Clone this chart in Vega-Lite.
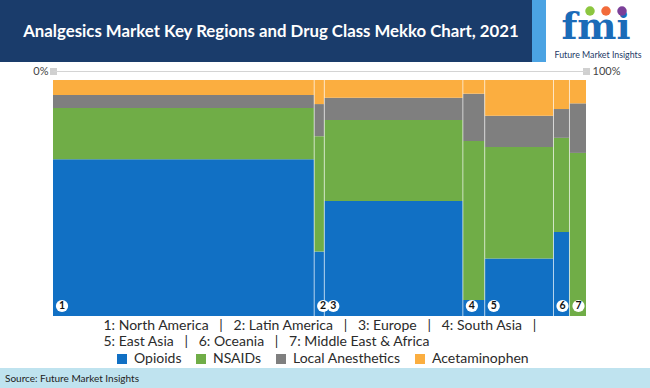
{
  "$schema": "https://vega.github.io/schema/vega-lite/v6.json",
  "padding": 0,
  "spacing": 0,
  "background": "#ffffff",
  "config": {"view": {"stroke": null}, "font": "Lato", "concat": {"spacing": 0}},
  "resolve": {"scale": {"color": "independent"}, "legend": {"color": "independent"}},
  "datasets": {
    "regions": [
      {"num": 1, "region": "North America", "share": 49.0},
      {"num": 2, "region": "Latin America", "share": 1.9},
      {"num": 3, "region": "Europe", "share": 26.0},
      {"num": 4, "region": "South Asia", "share": 4.1},
      {"num": 5, "region": "East Asia", "share": 12.9},
      {"num": 6, "region": "Oceania", "share": 3.0},
      {"num": 7, "region": "Middle East & Africa", "share": 3.1}
    ],
    "mix": [
      {"region": "North America", "cls": "Opioids", "pct": 66.4},
      {"region": "North America", "cls": "NSAIDs", "pct": 21.7},
      {"region": "North America", "cls": "Local Anesthetics", "pct": 5.5},
      {"region": "North America", "cls": "Acetaminophen", "pct": 6.4},
      {"region": "Latin America", "cls": "Opioids", "pct": 27.3},
      {"region": "Latin America", "cls": "NSAIDs", "pct": 48.9},
      {"region": "Latin America", "cls": "Local Anesthetics", "pct": 13.6},
      {"region": "Latin America", "cls": "Acetaminophen", "pct": 10.2},
      {"region": "Europe", "cls": "Opioids", "pct": 48.7},
      {"region": "Europe", "cls": "NSAIDs", "pct": 34.3},
      {"region": "Europe", "cls": "Local Anesthetics", "pct": 9.5},
      {"region": "Europe", "cls": "Acetaminophen", "pct": 7.5},
      {"region": "South Asia", "cls": "Opioids", "pct": 6.8},
      {"region": "South Asia", "cls": "NSAIDs", "pct": 67.4},
      {"region": "South Asia", "cls": "Local Anesthetics", "pct": 20.0},
      {"region": "South Asia", "cls": "Acetaminophen", "pct": 5.8},
      {"region": "East Asia", "cls": "Opioids", "pct": 24.4},
      {"region": "East Asia", "cls": "NSAIDs", "pct": 47.2},
      {"region": "East Asia", "cls": "Local Anesthetics", "pct": 13.3},
      {"region": "East Asia", "cls": "Acetaminophen", "pct": 15.1},
      {"region": "Oceania", "cls": "Opioids", "pct": 35.6},
      {"region": "Oceania", "cls": "NSAIDs", "pct": 39.9},
      {"region": "Oceania", "cls": "Local Anesthetics", "pct": 12.2},
      {"region": "Oceania", "cls": "Acetaminophen", "pct": 12.3},
      {"region": "Middle East & Africa", "cls": "Opioids", "pct": 0},
      {"region": "Middle East & Africa", "cls": "NSAIDs", "pct": 69.1},
      {"region": "Middle East & Africa", "cls": "Local Anesthetics", "pct": 21.0},
      {"region": "Middle East & Africa", "cls": "Acetaminophen", "pct": 9.9}
    ]
  },
  "vconcat": [
    {
      "hconcat": [
        {
          "width": 532, "height": 62,
          "view": {"fill": "#1a3c6b", "stroke": null},
          "data": {"values": [{"t": "Analgesics Market Key Regions and Drug Class Mekko Chart, 2021"}]},
          "mark": {"type": "text", "color": "#ffffff", "font": "Lato", "fontWeight": "bold", "fontSize": 16.8, "dx": 5, "dy": 1, "baseline": "middle"},
          "encoding": {"text": {"field": "t"}}
        },
        {
          "width": 14, "height": 62,
          "view": {"fill": "#4ba3e3", "stroke": null},
          "data": {"values": [{"t": ""}]},
          "mark": "text",
          "encoding": {"text": {"field": "t"}}
        },
        {
          "width": 104, "height": 62,
          "view": {"fill": "#ffffff", "stroke": null},
          "data": {"values": [{"logo": "fmi", "name": "Future Market Insights"}]},
          "layer": [
            {"mark": {"type": "text", "font": "DejaVu Serif", "fontWeight": "bold", "fontSize": 37, "color": "#1b6bb8", "baseline": "alphabetic", "dy": 8, "dx": -2}, "encoding": {"text": {"field": "logo"}}},
            {"mark": {"type": "text", "font": "Lato", "fontSize": 8.8, "color": "#1d3a66", "baseline": "middle", "dy": 23.5}, "encoding": {"text": {"field": "name"}}},
            {"mark": {"type": "point", "filled": true, "size": 90, "color": "#8cc63f", "opacity": 1}, "encoding": {"xOffset": {"value": -8}, "yOffset": {"value": -20}}},
            {"mark": {"type": "point", "filled": true, "size": 90, "color": "#f26b3a", "opacity": 1}, "encoding": {"xOffset": {"value": 8}, "yOffset": {"value": -20}}},
            {"mark": {"type": "point", "filled": true, "size": 90, "color": "#7b3f98", "opacity": 1}, "encoding": {"xOffset": {"value": 24}, "yOffset": {"value": -20}}}
          ]
        }
      ],
      "spacing": 0
    },
    {
      "hconcat": [
        {
          "width": 53, "height": 236,
          "data": {"values": [{"t": ""}]},
          "mark": "text",
          "encoding": {"text": {"field": "t"}}
        },
        {
          "width": 533, "height": 236,
          "data": {"name": "mix"},
          "transform": [
            {"lookup": "region", "from": {"data": {"name": "regions"}, "key": "region", "fields": ["num", "share"]}},
            {"stack": "share", "groupby": ["cls"], "sort": [{"field": "num", "order": "ascending"}], "as": ["x0", "x1"], "offset": "normalize"},
            {"stack": "pct", "groupby": ["region"], "sort": [{"field": "cls", "order": "descending"}], "as": ["y0", "y1"], "offset": "normalize"}
          ],
          "layer": [
            {
              "mark": {"type": "rect"},
              "encoding": {
                "x": {"field": "x0", "type": "quantitative", "scale": {"domain": [0, 1], "nice": false, "zero": false},
                  "axis": {"orient": "top", "values": [0, 1], "format": ".0%", "grid": false, "title": null, "offset": 9,
                    "domainColor": "#d4d4d4", "domainWidth": 1, "ticks": true, "tickSize": 0, "tickWidth": 7, "tickCap": "square", "tickColor": "#d0d0d0",
                    "labelFont": "Lato", "labelFontSize": 11, "labelColor": "#444444", "labelBaseline": "middle", "labelPadding": 0,
                    "labelAlign": {"condition": {"test": "datum.value < 0.5", "value": "right"}, "value": "left"},
                    "labelOffset": {"condition": {"test": "datum.value < 0.5", "value": -5}, "value": 6},
                    "labelFlush": false, "labelOverlap": false, "labelBound": false, "minExtent": 9, "maxExtent": 9}},
                "x2": {"field": "x1"},
                "y": {"field": "y0", "type": "quantitative", "scale": {"domain": [0, 1], "nice": false}, "axis": null},
                "y2": {"field": "y1"},
                "color": {"field": "cls", "type": "nominal",
                  "scale": {"domain": ["Opioids", "NSAIDs", "Local Anesthetics", "Acetaminophen"], "range": ["#1170c4", "#70ad47", "#7f7f7f", "#fbae40"]},
                  "legend": {"orient": "none", "legendX": 60, "legendY": 270, "direction": "horizontal", "title": null,
                    "symbolType": "square", "symbolSize": 100, "symbolStrokeWidth": 0, "symbolOpacity": 1,
                    "labelFont": "Lato", "labelFontSize": 14, "labelColor": "#2b2b2b", "labelOffset": 5, "columnPadding": 12, "padding": 2}}
              }
            },
            {
              "transform": [{"filter": "datum.cls == 'Opioids' && datum.num > 1"}],
              "mark": {"type": "rule", "color": "#ffffff", "strokeWidth": 1, "opacity": 0.6},
              "encoding": {
                "x": {"field": "x0", "type": "quantitative",
                  "axis": {"orient": "bottom", "labels": false, "ticks": false, "domain": false, "grid": false,
                    "title": ["1: North America\u00a0\u00a0\u00a0|\u00a0\u00a0\u00a02: Latin America\u00a0\u00a0\u00a0|\u00a0\u00a0\u00a03: Europe\u00a0\u00a0\u00a0|\u00a0\u00a0\u00a04: South Asia\u00a0\u00a0\u00a0|", "5: East Asia\u00a0\u00a0\u00a0|\u00a0\u00a0\u00a06: Oceania\u00a0\u00a0\u00a0|\u00a0\u00a0\u00a07: Middle East & Africa"],
                    "titleFont": "Lato", "titleFontSize": 14, "titleFontWeight": "normal", "titleColor": "#2b2b2b",
                    "titleAnchor": "start", "titleAlign": "left", "titleX": 50, "titleY": 2, "titleBaseline": "top", "titleLineHeight": 16.5}}
              }
            },
            {
              "transform": [{"filter": "datum.cls == 'Opioids'"}],
              "mark": {"type": "point", "filled": true, "color": "#ffffff", "opacity": 1, "size": 150, "shape": "circle"},
              "encoding": {
                "x": {"field": "x0", "type": "quantitative", "axis": null},
                "xOffset": {"value": 9},
                "y": {"datum": 0, "axis": null},
                "yOffset": {"value": -10}
              }
            },
            {
              "transform": [{"filter": "datum.cls == 'Opioids'"}],
              "mark": {"type": "text", "fontWeight": "bold", "fontSize": 10.5, "color": "#111111", "dx": 9, "dy": -10, "baseline": "middle", "font": "Lato"},
              "encoding": {
                "x": {"field": "x0", "type": "quantitative", "axis": null},
                "y": {"datum": 0, "axis": null},
                "text": {"field": "num"}
              }
            }
          ]
        }
      ],
      "spacing": 0,
      "bounds": "flush",
      "resolve": {"scale": {"color": "independent"}, "legend": {"color": "independent"}}
    },
    {
      "width": 650, "height": 21,
      "view": {"fill": "#bfe3ef", "stroke": null},
      "data": {"values": [{"s": "Source: Future Market Insights"}]},
      "mark": {"type": "text", "align": "left", "dx": -320, "fontSize": 10, "color": "#222222", "font": "Lato", "baseline": "middle"},
      "encoding": {"text": {"field": "s"}}
    }
  ]
}
